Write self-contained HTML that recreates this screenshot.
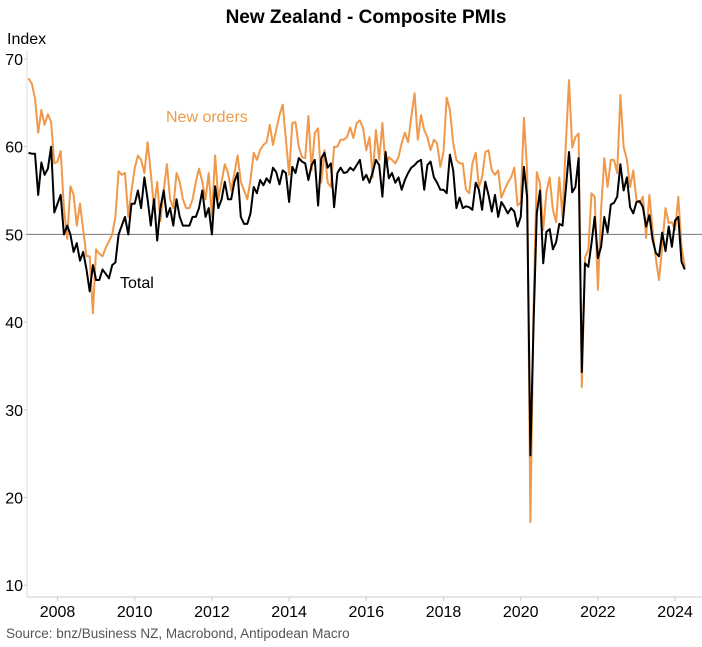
<!DOCTYPE html>
<html><head><meta charset="utf-8"><style>
body{margin:0;background:#fff;font-family:"Liberation Sans",Arial,sans-serif}
svg text{font-family:"Liberation Sans",Arial,sans-serif}
</style></head><body>
<svg id="c" width="702" height="642" xmlns="http://www.w3.org/2000/svg">
<text x="366" y="23" text-anchor="middle" font-size="19" font-weight="bold" fill="#000">New Zealand - Composite PMIs</text>
<text x="7" y="44" font-size="16" fill="#000">Index</text>
<g id="grid"></g>
<g id="lines"></g>
<text x="166" y="122" font-size="16" fill="#f0994a">New orders</text>
<text x="120" y="288" font-size="16" fill="#000">Total</text>
<text x="6" y="638" font-size="13.5" fill="#555">Source: bnz/Business NZ, Macrobond, Antipodean Macro</text>
</svg>
<script>
const yTicks=[10,20,30,40,50,60,70];
const xTicks=[2008,2010,2012,2014,2016,2018,2020,2022,2024];
const startYear=2007, startMonth=4;
const total=[
59.3,59.2,59.2,54.5,58.2,56.8,57.5,60,52.5,
53.5,54.5,50,51,50,48,49,47,48,46,43.5,46.5,
44.8,44.8,46,45.5,45,46.5,46.8,50,51,52,50,53.5,
53.5,55,53,56.5,54,51,54,49.3,53,55,52,53,
51,54,52,51,51,51,52,52,53,55,52,53,
50,55.5,53,54,56,54,54,56,57,52,51.2,51.2,
52.4,55.4,54.7,56.2,55.6,56.4,55.9,57.6,57.1,55.7,57.3,57,
53.7,57.7,57,58.7,58.3,58.1,56.2,57.9,58.5,53.3,58.7,59.3,
57.6,58.1,53.1,57,57.6,57,57.1,57.6,57.3,57.9,58.5,56.2,
56.8,55.9,57.1,58.5,57.9,54.3,59.4,56.4,57,55.9,56.5,55.1,
56.2,57,57.6,57.9,58.3,58.5,55.1,57.9,58.3,56.5,55.9,55.1,
55.1,54.7,59.1,57.3,53,54.2,53,53.2,53.1,52.8,55.9,55.1,
52.8,56,54.5,52.6,54.5,52,53.7,53.1,52.4,53,52.6,50.9,
52,57.7,54.3,24.8,40,52.4,55,46.7,50.3,50.6,48.3,49.1,
51.2,51,55,59.4,54.8,55.4,58.7,34.3,46.7,46.3,49,52,
47.3,48.6,52,50.2,53.4,53.6,54.3,58,55,56.5,53.1,52.4,
53.7,53.8,53.1,50.9,52.2,49.4,47.9,47.5,50.2,48.1,50.9,48.6,
51.6,52,46.9,46];
const newOrders=[
67.8,67.2,65.5,61.6,64.2,62.5,63.7,62.8,58.1,
58.3,59.5,53,49.5,55.5,54.5,51,53.5,50.5,47.5,47.5,41,
48.3,47.8,47.5,48.5,49.2,50,52,57.2,56.8,57,52,55,
57.5,59,58.5,57,60.5,57,53,56,51.5,55,58,54,
53,57,56,54,53,53,54,56,57.5,56,54,57,
52,59,54,56,58,57,55,57,59,56,55,54,
56.2,59.3,58.5,59.6,60.2,60.5,62.5,60.2,61.9,63.6,64.8,60.8,
56.8,62.7,62.8,60,58.8,58.7,63.5,57.3,61.6,62.1,55.9,59.6,
55.9,55.4,60,60,60.8,60.8,61.1,62.2,61,62.7,63,62.1,
59.6,61.1,56.5,61.9,58.5,62.7,57.7,58.8,58.5,58.1,58.8,60.4,
61.6,60.5,63.4,66.1,60.8,63.6,61.9,61.1,59.6,60.8,60.4,57.7,
59.4,65.6,64.2,60.4,58.5,58.1,58.1,55.1,54.7,58.1,59.3,55.4,
56.5,59.4,59.6,57.3,56.8,57.3,54.2,55.1,55.9,56.5,57.6,53.3,
53.6,63.3,57.3,17.2,42,57.1,55.8,50.5,54.8,56.5,52.8,51.4,
56.5,52,60,67.6,59.9,61.1,61.5,32.6,47.4,48.2,54.7,54.3,
43.7,52.8,58.7,55.4,58.5,58.5,57,65.9,60,58.5,55.4,57.3,
53.9,53.6,54.3,49.6,54.5,50.5,47.3,44.8,48.6,53,51.3,51.4,
50.5,54.3,48.6,46.3];
const NS="http://www.w3.org/2000/svg";
const xS=t=>57.5+(t-2008)*38.6;
const yS=v=>59+(70-v)*8.77;
const tOf=i=>startYear+(startMonth-1+i)/12;
const grid=document.getElementById('grid'), lines=document.getElementById('lines');
function mk(tag,attrs,parent){const e=document.createElementNS(NS,tag);for(const k in attrs)e.setAttribute(k,attrs[k]);parent.appendChild(e);return e;}
const ya=mk('line',{x1:27,x2:27,y1:50,y2:597,stroke:'#ddd'},grid);


const xa=mk('line',{x1:27,x2:702,y1:597,y2:597,stroke:'#ccc'},grid);


const ref=mk('line',{x1:27,x2:702,y1:yS(50),y2:yS(50),stroke:'#777','stroke-width':1},grid);


yTicks.forEach(v=>{
 const t=mk('text',{x:23,y:yS(v)+6,'text-anchor':'end','font-size':16,fill:'#000'},grid);t.textContent=v;
 
 
 mk('line',{x1:24,x2:27,y1:yS(v),y2:yS(v),stroke:'#ccc'},grid);
});
xTicks.forEach(y=>{
 const t=mk('text',{x:xS(y),y:617,'text-anchor':'middle','font-size':16,fill:'#000'},grid);t.textContent=y;
 
 
 mk('line',{x1:xS(y),x2:xS(y),y1:597,y2:601,stroke:'#ccc'},grid);
});
function path(arr,col,name){
 const d=arr.map((v,i)=>(i?'L':'M')+xS(tOf(i)).toFixed(1)+','+yS(v).toFixed(1)).join('');
 const p=mk('path',{d:d,fill:'none',stroke:col,'stroke-width':2,'stroke-linejoin':'round'},lines);
 
 
}
path(newOrders,'#f0994a','new-orders-line');
path(total,'#000','total-line');
</script>
</body></html>
